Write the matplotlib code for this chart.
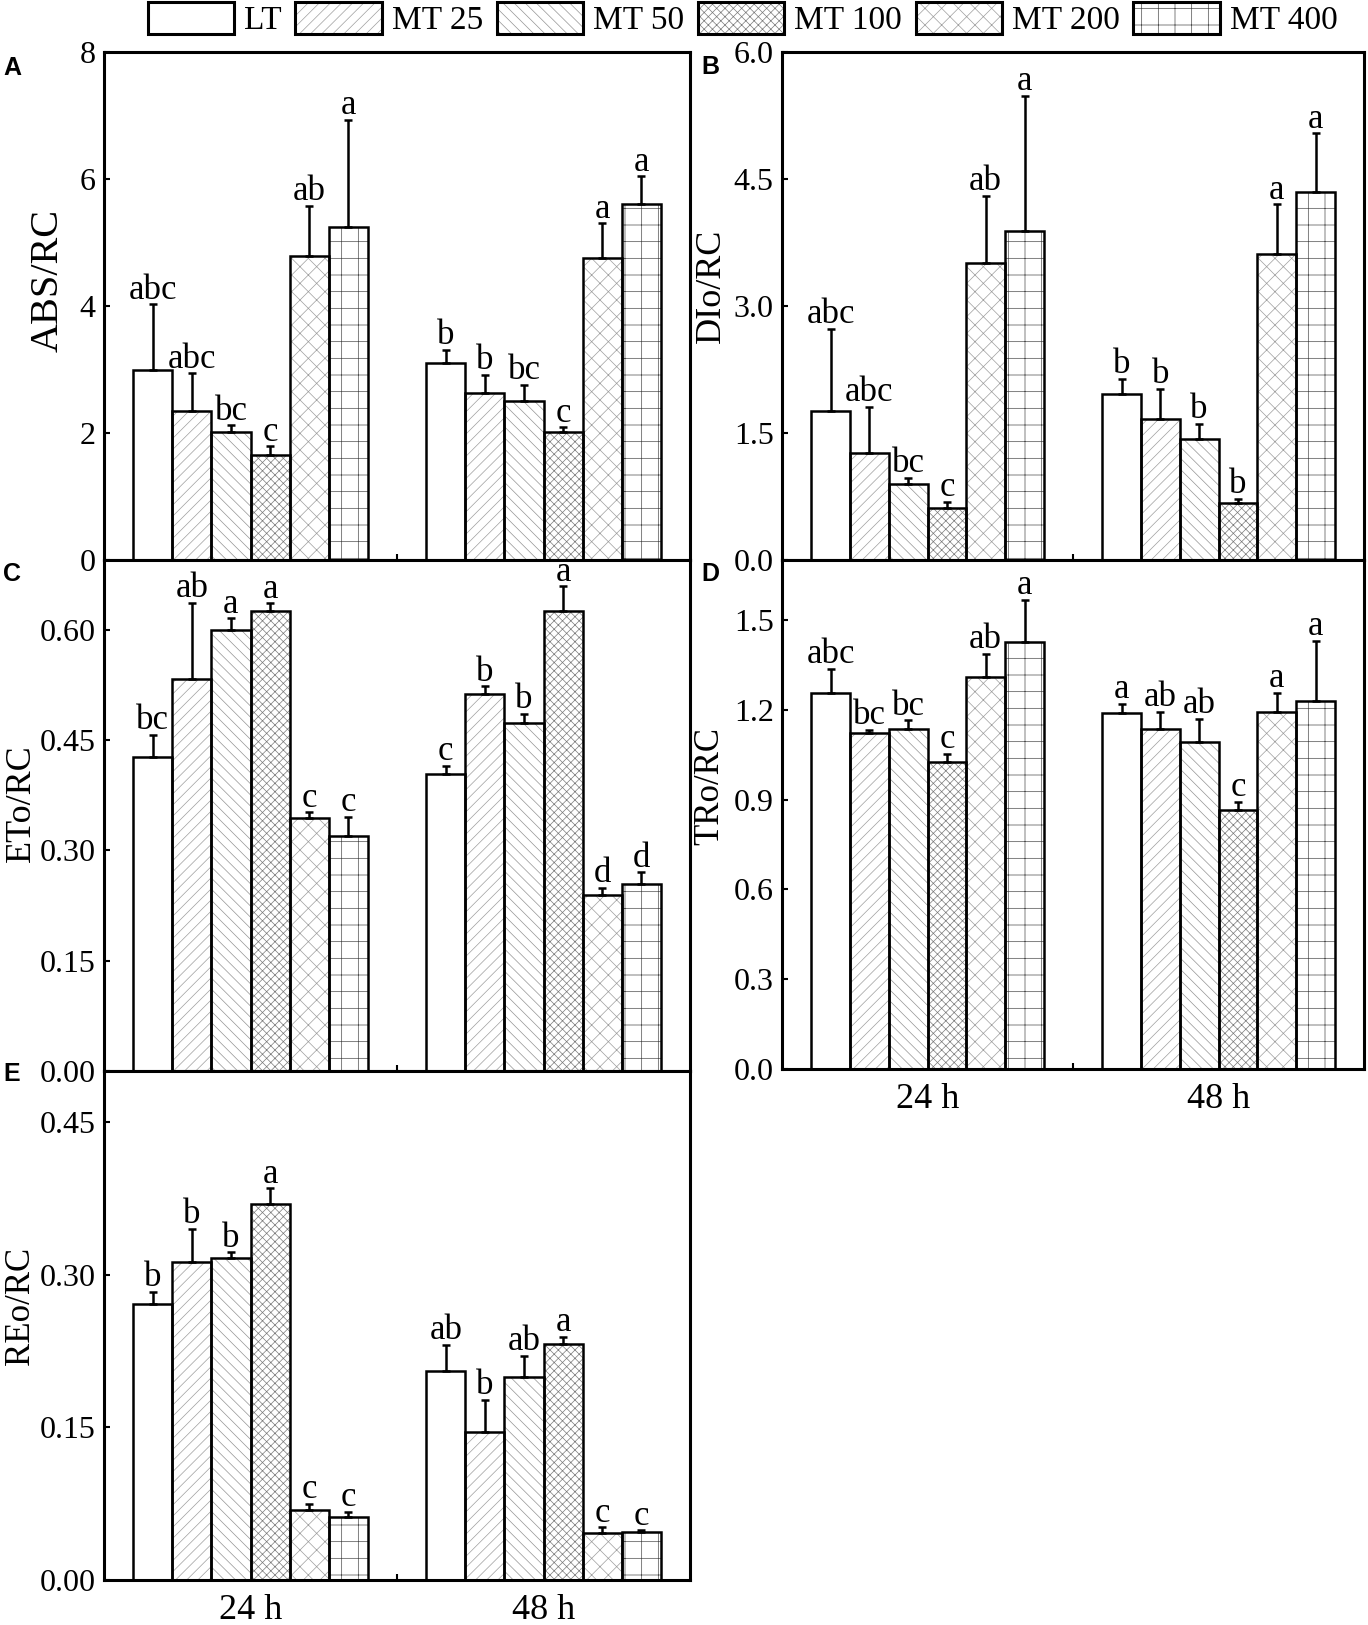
import numpy as np
import matplotlib.pyplot as plt
from matplotlib.patches import Patch

plt.rcParams['font.family'] = ['Liberation Serif', 'DejaVu Serif']
plt.rcParams['hatch.linewidth'] = 0.5

treatments = ['LT', 'MT 25', 'MT 50', 'MT 100', 'MT 200', 'MT 400']
times = ['24 h', '48 h']

# ABS/RC
abs_mean = [[2.99, 2.35, 2.02, 1.66, 4.78, 5.25], [3.10, 2.63, 2.50, 2.02, 4.75, 5.61]]
abs_err = [[1.04, 0.59, 0.10, 0.13, 0.80, 1.68], [0.21, 0.29, 0.26, 0.07, 0.55, 0.43]]
abs_let = [['abc', 'abc', 'bc', 'c', 'ab', 'a'], ['b', 'b', 'bc', 'c', 'a', 'a']]

# DIo/RC
dio_mean = [[1.76, 1.26, 0.90, 0.62, 3.51, 3.88], [1.96, 1.66, 1.43, 0.67, 3.61, 4.35]]
dio_err = [[0.97, 0.55, 0.07, 0.07, 0.79, 1.60], [0.18, 0.36, 0.18, 0.05, 0.59, 0.69]]
dio_let = [['abc', 'abc', 'bc', 'c', 'ab', 'a'], ['b', 'b', 'b', 'b', 'a', 'a']]

# ETo/RC
eto_mean = [[0.427, 0.533, 0.600, 0.625, 0.344, 0.319], [0.404, 0.513, 0.473, 0.625, 0.240, 0.254]]
eto_err = [[0.030, 0.104, 0.016, 0.011, 0.008, 0.027], [0.011, 0.010, 0.013, 0.034, 0.009, 0.016]]
eto_let = [['bc', 'ab', 'a', 'a', 'c', 'c'], ['c', 'b', 'b', 'a', 'd', 'd']]

# TRo/RC
tro_mean = [[1.256, 1.122, 1.136, 1.024, 1.309, 1.425], [1.189, 1.135, 1.091, 0.865, 1.193, 1.228]]
tro_err = [[0.081, 0.011, 0.028, 0.029, 0.077, 0.143], [0.031, 0.059, 0.079, 0.028, 0.063, 0.203]]
tro_let = [['abc', 'bc', 'bc', 'c', 'ab', 'a'], ['a', 'ab', 'ab', 'c', 'a', 'a']]

# REo/RC
reo_mean = [[0.271, 0.312, 0.316, 0.369, 0.069, 0.062], [0.205, 0.145, 0.199, 0.232, 0.046, 0.047]]
reo_err = [[0.012, 0.033, 0.006, 0.016, 0.006, 0.005], [0.026, 0.032, 0.021, 0.007, 0.006, 0.002]]
reo_let = [['b', 'b', 'b', 'a', 'c', 'c'], ['ab', 'b', 'ab', 'a', 'c', 'c']]

hatches = ['', '///', '\\\\\\', 'xxxx', 'xx', '+']
hatch_cols = ['white', '0.62', '0.58', '0.48', '0.62', '0.3']

W, H = 1368, 1625
fig = plt.figure(figsize=(W / 100, H / 100), dpi=100)


def px_axes(x0, y0, x1, y1):
    return fig.add_axes([x0 / W, 1 - y1 / H, (x1 - x0) / W, (y1 - y0) / H])


def draw_panel(ax, means, errs, letters, ylim, yticks, fmt, ylabel, lab_x, lab_y=0.5,
               lab_size=26, xlabels=False):
    w = 0.8 / 6
    for g in range(2):
        for i in range(6):
            x = g + 1 + (i - 2.5) * w
            m = means[g][i]
            e = errs[g][i]
            ax.bar(x, m, w, color='white', edgecolor=hatch_cols[i], hatch=hatches[i],
                   linewidth=0, zorder=2)
            ax.bar(x, m, w, fill=False, edgecolor='black', linewidth=1.8, zorder=3)
            ax.errorbar(x, m, yerr=[[0], [e]], fmt='none', ecolor='black',
                        elinewidth=1.8, capsize=3, capthick=1.8, zorder=4)
            ax.annotate(letters[g][i], (x, m + e), xytext=(0, 4),
                        textcoords='offset points', ha='center', va='baseline',
                        fontsize=25, zorder=5)
    ax.set_xlim(0.5, 2.5)
    ax.set_ylim(*ylim)
    ax.set_yticks(yticks)
    ax.set_yticklabels([fmt.format(t) for t in yticks])
    ax.set_xticks([1, 2])
    ax.set_xticks([1.5], minor=True)
    if xlabels:
        ax.set_xticklabels(times)
    else:
        ax.set_xticklabels([])
    ax.tick_params(axis='both', which='both', direction='in', length=4, width=1.5,
                   labelsize=23, pad=6)
    ax.tick_params(axis='x', which='major', pad=10, labelsize=26)
    for s in ax.spines.values():
        s.set_linewidth(2.2)
    ax.set_ylabel(ylabel, fontsize=lab_size)
    ax.yaxis.set_label_coords(lab_x, lab_y)


axA = px_axes(104, 52, 690, 560)
axB = px_axes(782, 52, 1364, 560)
axC = px_axes(104, 560, 690, 1071)
axD = px_axes(782, 560, 1364, 1069)
axE = px_axes(104, 1071, 690, 1580)

draw_panel(axA, abs_mean, abs_err, abs_let, (0, 8), [0, 2, 4, 6, 8], '{:.0f}', 'ABS/RC',
           -0.063, 0.55, lab_size=29)
draw_panel(axB, dio_mean, dio_err, dio_let, (0, 6), [0, 1.5, 3, 4.5, 6], '{:.1f}', 'DIo/RC',
           -0.093, 0.54)
draw_panel(axC, eto_mean, eto_err, eto_let, (0, 0.695), [0, 0.15, 0.3, 0.45, 0.6], '{:.2f}',
           'ETo/RC', -0.112, 0.524, lab_size=26)
draw_panel(axD, tro_mean, tro_err, tro_let, (0, 1.7), [0, 0.3, 0.6, 0.9, 1.2, 1.5], '{:.1f}',
           'TRo/RC', -0.096, 0.556, lab_size=25, xlabels=True)
draw_panel(axE, reo_mean, reo_err, reo_let, (0, 0.5), [0, 0.15, 0.3, 0.45], '{:.2f}',
           'REo/RC', -0.115, 0.538, lab_size=25, xlabels=True)

for lab, (x, y) in zip('ABCDE', [(12, 68), (710, 67), (12, 574), (710, 574), (12, 1074)]):
    fig.text(x / W, 1 - y / H, lab, family='Liberation Sans', weight='bold', fontsize=18,
             ha='center', va='center')

handles = [(Patch(facecolor='white', edgecolor=c, hatch=h, linewidth=0),
            Patch(facecolor='none', edgecolor='black', linewidth=2.2))
           for h, c in zip(hatches, hatch_cols)]
fig.legend(handles, treatments, loc='upper center', bbox_to_anchor=(0.543, 0.999), ncol=6,
           frameon=False, fontsize=24, handlelength=2.6, handleheight=1.1,
           handletextpad=0.3, columnspacing=0.4, borderaxespad=0, borderpad=0)

fig.savefig('out.png', dpi=100)
